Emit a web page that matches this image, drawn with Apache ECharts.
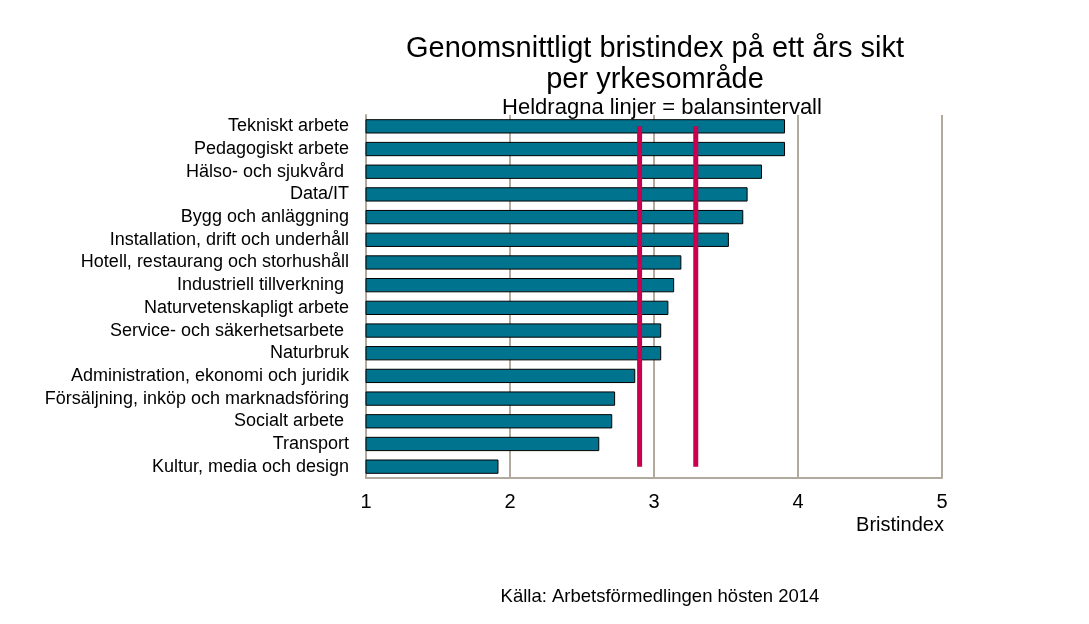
<!DOCTYPE html>
<html>
<head>
<meta charset="utf-8">
<script src="https://cdn.jsdelivr.net/npm/echarts@6/dist/echarts.min.js"></script>
<style>html,body{margin:0;padding:0;background:#fff}#c{width:1089px;height:624px}</style>
</head>
<body>
<div id="c"></div>
<script>
const categories = [
  "Tekniskt arbete",
  "Pedagogiskt arbete",
  "Hälso- och sjukvård ",
  "Data/IT",
  "Bygg och anläggning",
  "Installation, drift och underhåll",
  "Hotell, restaurang och storhushåll",
  "Industriell tillverkning ",
  "Naturvetenskapligt arbete",
  "Service- och säkerhetsarbete ",
  "Naturbruk",
  "Administration, ekonomi och juridik",
  "Försäljning, inköp och marknadsföring",
  "Socialt arbete ",
  "Transport",
  "Kultur, media och design"
];
const values = [3.91, 3.91, 3.75, 3.65, 3.62, 3.52, 3.19, 3.14, 3.10, 3.05, 3.05, 2.87, 2.73, 2.71, 2.62, 1.92];
const balanceLow = 2.90;
const balanceHigh = 3.29;
const xTicks = [1, 2, 3, 4, 5];

const font = "'Liberation Sans', Arial, sans-serif";
const chart = echarts.init(document.getElementById('c'), null, {renderer: 'canvas'});
const first = categories[0], last = categories[categories.length - 1];
chart.setOption({
  animation: false,
  textStyle: {fontFamily: font},
  title: [
    {text: "Genomsnittligt bristindex på ett års sikt\nper yrkesområde", left: 650, top: 28, textAlign: 'center',
     textStyle: {fontFamily: font, fontSize: 29, fontWeight: 'normal', color: '#000', lineHeight: 31}},
    {text: "Heldragna linjer = balansintervall", left: 657, top: 92, textAlign: 'center',
     textStyle: {fontFamily: font, fontSize: 22, fontWeight: 'normal', color: '#000'}},
    {text: "Källa: Arbetsförmedlingen hösten 2014", left: 655, top: 582, textAlign: 'center',
     textStyle: {fontFamily: font, fontSize: 18.5, fontWeight: 'normal', color: '#000'}},
    {text: "Bristindex", left: 895, top: 510, textAlign: 'center',
     textStyle: {fontFamily: font, fontSize: 20, fontWeight: 'normal', color: '#000'}}
  ],
  grid: {left: 366, right: 147, top: 115, bottom: 146, containLabel: false},
  xAxis: {
    type: 'value', min: xTicks[0], max: xTicks[xTicks.length - 1], interval: 1,
    axisLine: {show: true, lineStyle: {color: '#B2AA9F', width: 2}},
    axisTick: {show: false},
    splitLine: {show: true, lineStyle: {color: '#B2AA9F', width: 2}},
    axisLabel: {fontFamily: font, fontSize: 20, color: '#000', margin: 14}
  },
  yAxis: {
    type: 'category', data: categories, inverse: true,
    axisLine: {show: true, lineStyle: {color: '#B2AA9F', width: 2}},
    axisTick: {show: false},
    axisLabel: {fontFamily: font, fontSize: 18, color: '#000', margin: 17, interval: 0}
  },
  series: [
    {type: 'bar', data: values, barCategoryGap: '37%', clip: true,
     itemStyle: {color: '#00748F', borderColor: '#000', borderWidth: 1}},
    {type: 'line', data: [[balanceLow, first], [balanceLow, last]], symbol: 'none',
     lineStyle: {color: '#C8004F', width: 5}, z: 5},
    {type: 'line', data: [[balanceHigh, first], [balanceHigh, last]], symbol: 'none',
     lineStyle: {color: '#C8004F', width: 5}, z: 5}
  ]
});
</script>
</body>
</html>
